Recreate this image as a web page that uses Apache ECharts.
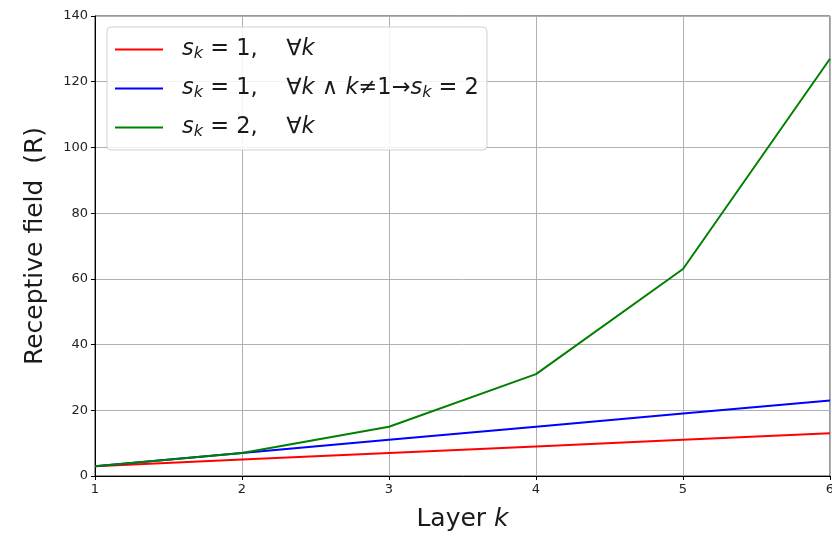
<!DOCTYPE html>
<html><head><meta charset="utf-8">
<script src="https://cdn.jsdelivr.net/npm/echarts@6/dist/echarts.min.js"></script>
<style>html,body{margin:0;padding:0;background:#fff}#c{width:832px;height:540px}</style>
</head><body><div id="c"></div>
<script>
const layers = [1, 2, 3, 4, 5, 6];
const redValues = [3, 5, 7, 9, 11, 13];
const blueValues = [3, 7, 11, 15, 19, 23];
const greenValues = [3, 7, 15, 31, 63, 127];
const seriesNames = ['a', 'b', 'c'];
const legendLabels = {
  a: '{it|s}{sub|k}{n| = 1,    ∀}{it|k}',
  b: '{it|s}{sub|k}{n| = 1,    ∀}{it|k}{n| ∧ }{it|k}{n|≠1→}{it|s}{sub|k}{n| = 2}',
  c: '{it|s}{sub|k}{n| = 2,    ∀}{it|k}'
};
const colors = ['#ff0000', '#0000ff', '#008000'];
const seriesValues = [redValues, blueValues, greenValues];
const font = 'DejaVu Sans';

const chart = echarts.init(document.getElementById('c'), null, {renderer: 'canvas'});
chart.setOption({
  animation: false,
  textStyle: {fontFamily: font},
  grid: {left: 95, right: 2, top: 16, bottom: 64, show: true, borderColor: '#333', borderWidth: 1, containLabel: false, outerBoundsMode: 'none'},
  legend: {
    left: 107, top: 27, orient: 'vertical',
    data: seriesNames,
    icon: 'rect', itemWidth: 48, itemHeight: 2, itemGap: 15,
    padding: [11, 8, 10, 8],
    backgroundColor: 'rgba(255,255,255,0.85)', borderColor: '#d0d0d0', borderWidth: 1, borderRadius: 4,
    formatter: n => legendLabels[n],
    textStyle: {
      fontFamily: font, fontSize: 22.5, color: '#1a1a1a', padding: [0, 0, 0, 14],
      rich: {
        n: {fontFamily: font, fontSize: 22.5, color: '#1a1a1a'},
        it: {fontFamily: font, fontSize: 22.5, fontStyle: 'italic', color: '#1a1a1a'},
        sub: {fontFamily: font, fontSize: 16, fontStyle: 'italic', color: '#1a1a1a', verticalAlign: 'bottom', padding: [9, 0, 0, 0]}
      }
    }
  },
  xAxis: {
    type: 'value', min: 1, max: 6, interval: 1,
    name: '{n|Layer }{it|k}', nameLocation: 'middle', nameGap: 31,
    nameTextStyle: {rich: {n: {fontFamily: font, fontSize: 25, color: '#1a1a1a'}, it: {fontFamily: font, fontSize: 25, fontStyle: 'italic', color: '#1a1a1a'}}},
    axisLine: {onZero: false, lineStyle: {color: '#000', width: 1}},
    axisTick: {show: true, length: 4, lineStyle: {color: '#000'}},
    axisLabel: {color: '#222', fontSize: 13, margin: 7},
    splitLine: {show: true, lineStyle: {color: '#b0b0b0', width: 1}}
  },
  yAxis: {
    type: 'value', min: 0, max: 140, interval: 20,
    name: 'Receptive field  (R)', nameLocation: 'middle', nameGap: 47,
    nameTextStyle: {fontFamily: font, fontSize: 25, color: '#1a1a1a'},
    axisLine: {show: true, lineStyle: {color: '#000', width: 1}},
    axisTick: {show: true, length: 4, lineStyle: {color: '#000'}},
    axisLabel: {color: '#222', fontSize: 13, margin: 7},
    splitLine: {show: true, lineStyle: {color: '#b0b0b0', width: 1}}
  },
  series: seriesNames.map((n, i) => ({
    name: n, type: 'line', showSymbol: false, symbol: 'none',
    data: layers.map((x, j) => [x, seriesValues[i][j]]),
    lineStyle: {color: colors[i], width: 2}, itemStyle: {color: colors[i]}
  }))
});
</script></body></html>
